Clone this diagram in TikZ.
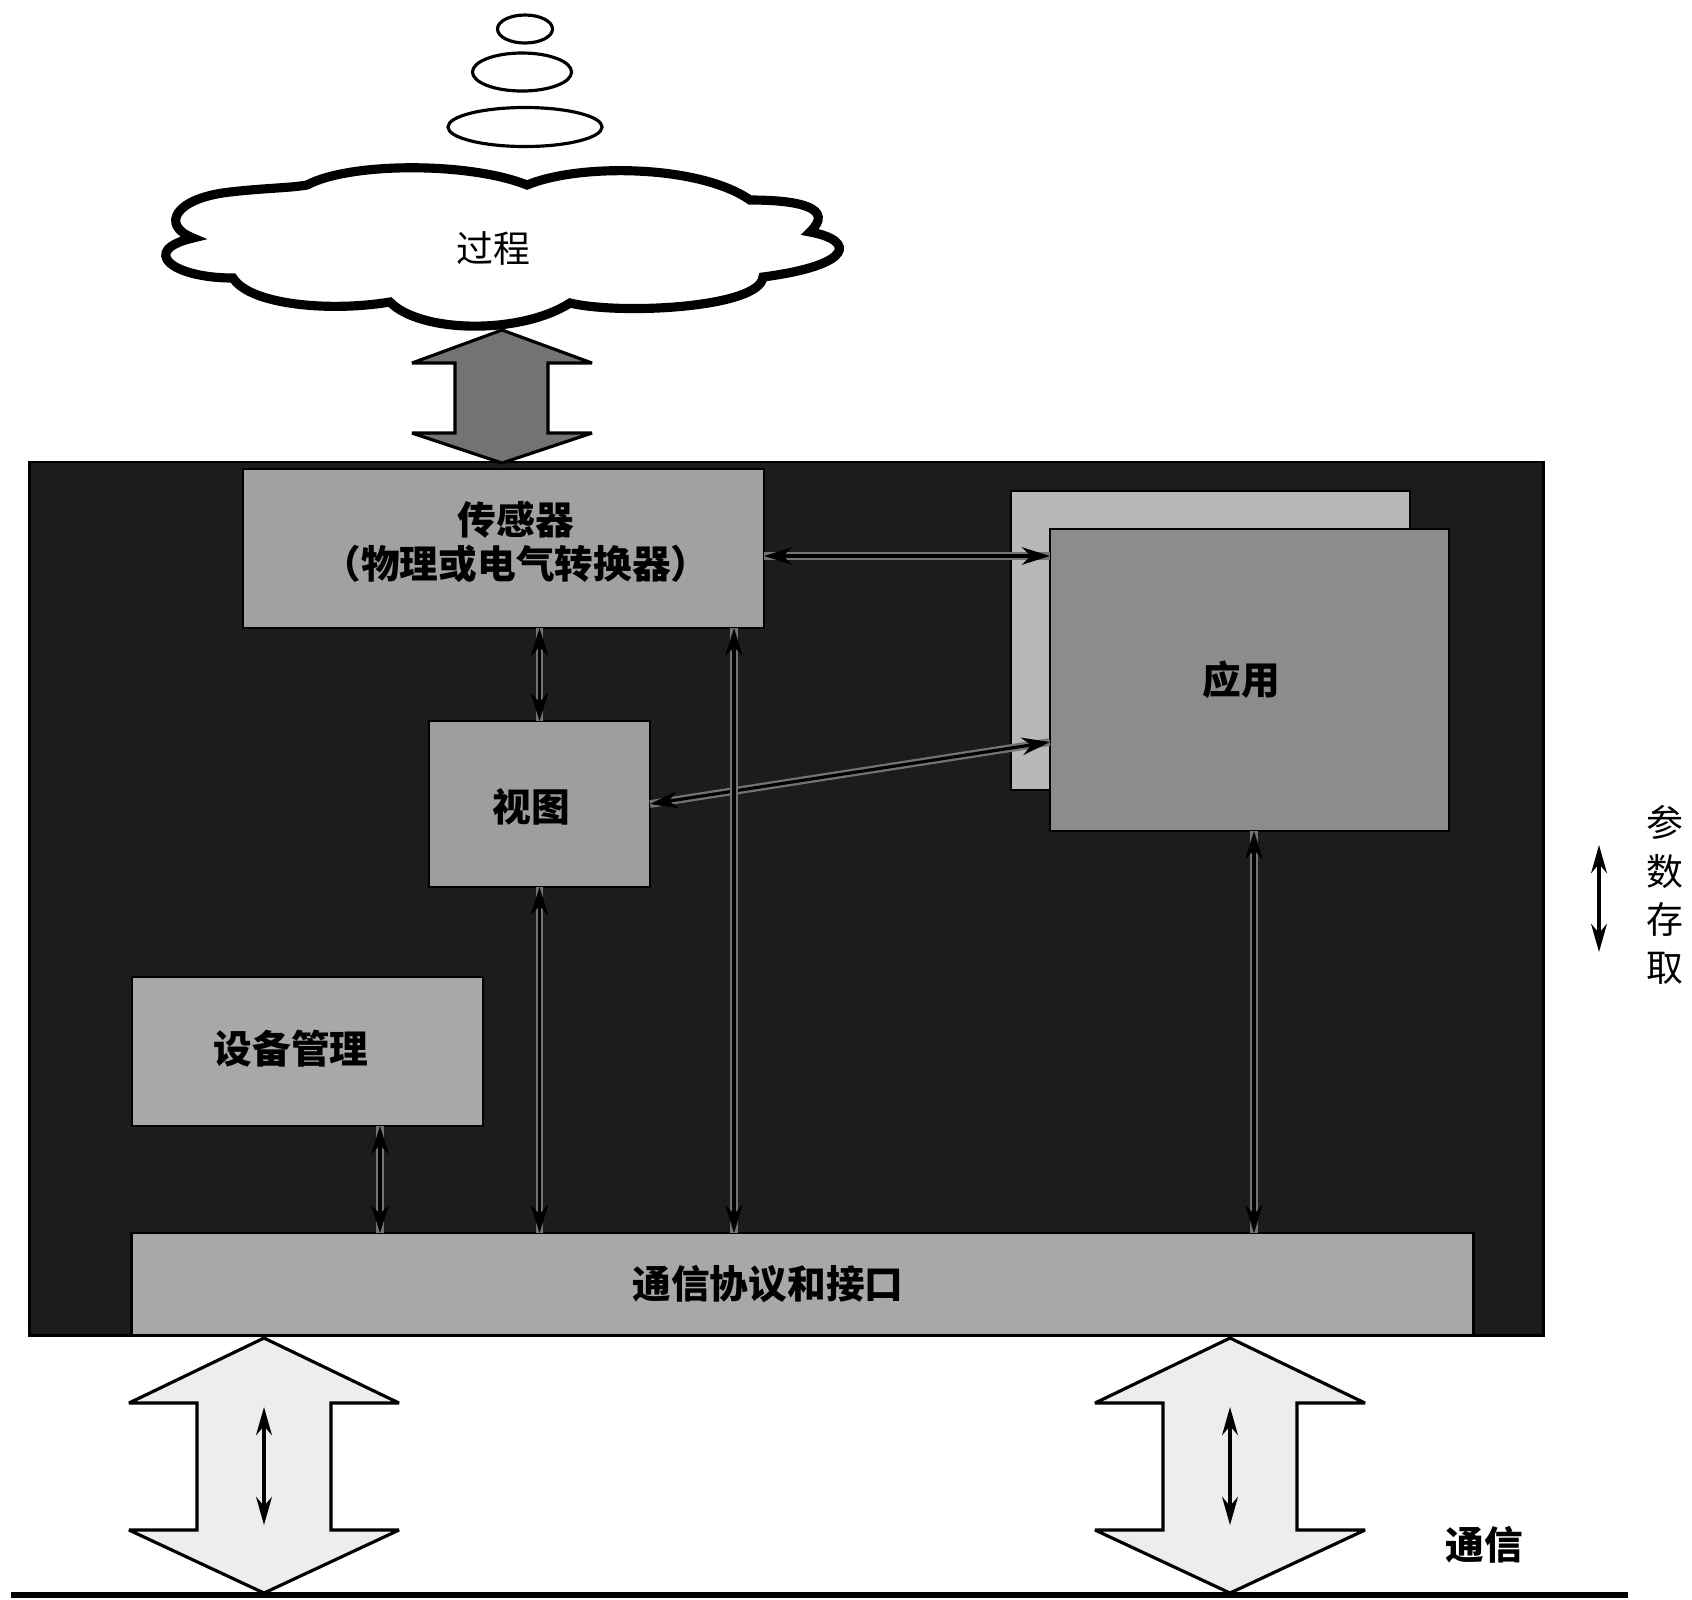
\documentclass[tikz,border=0pt]{standalone}
\usepackage{fontspec}
\newfontfamily\cjk{Noto Sans CJK SC}
\usetikzlibrary{arrows.meta}
\definecolor{darkbg}{gray}{0.11}
\definecolor{sensorc}{gray}{0.63}
\definecolor{appbackc}{gray}{0.72}
\definecolor{appfrontc}{gray}{0.55}
\definecolor{viewc}{gray}{0.62}
\definecolor{devc}{gray}{0.66}
\definecolor{commc}{gray}{0.66}
\definecolor{toparrowc}{gray}{0.45}
\definecolor{botarrowc}{gray}{0.93}
\begin{document}
\begin{tikzpicture}[x=0.01cm,y=-0.01cm,
  box/.style={draw=black, line width=0.7pt, inner sep=0pt, outer sep=0pt, rectangle},
  lbl/.style={font=\cjk\bfseries\fontsize{11pt}{12.5pt}\selectfont, inner sep=0pt, text=black, align=center},
  plain/.style={font=\cjk\fontsize{10.5pt}{13.7pt}\selectfont, inner sep=0pt, text=black, align=center},
  conn/.style={draw=black, line width=0.9pt, {Stealth[length=8pt,width=5pt]}-{Stealth[length=8pt,width=5pt]}, preaction={draw=black!55, line width=2.2pt, arrows=-}},
  thinarrow/.style={draw=black, line width=1pt, {Stealth[length=8pt,width=4.5pt]}-{Stealth[length=8pt,width=4.5pt]}},
  bigarrow/.style={draw=black, line width=0.9pt, line join=miter, miter limit=2},
  cloudline/.style={draw=black, line width=2.6pt, fill=white},
  ring/.style={draw=black, line width=0.9pt}
]
\useasboundingbox (0,0) rectangle (1692,1599);

% bubbles
\draw[ring] (525,29) ellipse [x radius=0.275cm, y radius=0.14cm];
\draw[ring] (522,72) ellipse [x radius=0.495cm, y radius=0.19cm];
\draw[ring] (525,127) ellipse [x radius=0.77cm, y radius=0.195cm];

% cloud
\draw[cloudline] (193,238) .. controls (160,225) and (175,198) .. (230,192)
  .. controls (265,188) and (290,188) .. (307,185)
  .. controls (350,162) and (470,162) .. (527,185)
  .. controls (580,163) and (700,165) .. (750,200)
  .. controls (800,200) and (835,208) .. (810,232)
  .. controls (855,240) and (855,265) .. (763,277)
  .. controls (760,308) and (620,315) .. (570,303)
  .. controls (520,335) and (420,333) .. (390,302)
  .. controls (330,312) and (250,305) .. (233,278)
  .. controls (170,278) and (140,250) .. (193,238) -- cycle;
\node[plain] (proc) at (493,248) {过程};

% main box and components
\node[box, fill=darkbg, minimum width=15.13cm, minimum height=8.73cm] (main) at (786.5,898.5) {};
\node[box, fill=sensorc, minimum width=5.21cm, minimum height=1.59cm] (sensor) at (503.5,548.5) {};
\node[box, fill=appbackc, minimum width=3.99cm, minimum height=2.99cm] (appback) at (1210.5,640.5) {};
\node[box, fill=appfrontc, minimum width=3.99cm, minimum height=3.02cm] (app) at (1249.5,680) {};
\node[box, fill=viewc, minimum width=2.21cm, minimum height=1.66cm] (view) at (539.5,804) {};
\node[box, fill=devc, minimum width=3.51cm, minimum height=1.49cm] (dev) at (307.5,1051.5) {};
\node[box, fill=commc, minimum width=13.41cm, minimum height=1.02cm] (comm) at (802.5,1284) {};

\node[lbl] (sensortxt) at (516,542) {传感器\\（物理或电气转换器）};
\node[lbl] (apptxt) at (1241,680) {应用};
\node[lbl] (viewtxt) at (531,807) {视图};
\node[lbl] (devtxt) at (291,1049) {设备管理};
\node[lbl] (commtxt) at (768,1284) {通信协议和接口};

% top big arrow
\draw[bigarrow, fill=toparrowc] (502,330) -- (592,363) -- (548,363) -- (548,433) -- (592,433) -- (502,463) -- (412,433) -- (455,433) -- (455,363) -- (412,363) -- cycle;

% inner connectors
\coordinate (ys) at (0,556);
\coordinate (ya) at (0,742);
\coordinate (xs) at (734,0);
\coordinate (xd) at (380,0);
\coordinate (xa) at (1254,0);
\draw[conn] (sensor.east |- ys) -- (app.west |- ys);
\draw[conn] (view.east) -- (app.west |- ya);
\draw[conn] (sensor.south -| view.north) -- (view.north);
\draw[conn] (view.south) -- (view.south |- comm.north);
\draw[conn] (sensor.south -| xs) -- (comm.north -| xs);
\draw[conn] (dev.south -| xd) -- (comm.north -| xd);
\draw[conn] (app.south -| xa) -- (comm.north -| xa);

% parameter access
\coordinate (pa1) at (1599,845);
\coordinate (pa2) at (1599,952);
\draw[thinarrow] (pa1) -- (pa2);
\node[plain] (param) at (1665,895) {参\\数\\存\\取};

% bottom big arrows
\draw[bigarrow, fill=botarrowc] (264,1338) -- (399,1403) -- (331,1403) -- (331,1530) -- (399,1530) -- (264,1593) -- (129,1530) -- (197,1530) -- (197,1403) -- (129,1403) -- cycle;
\draw[bigarrow, fill=botarrowc] (1230,1338) -- (1365,1403) -- (1297,1403) -- (1297,1530) -- (1365,1530) -- (1230,1593) -- (1095,1530) -- (1163,1530) -- (1163,1403) -- (1095,1403) -- cycle;
\coordinate (la1) at (264,1407);
\coordinate (la2) at (264,1525);
\coordinate (ra1) at (1230,1407);
\coordinate (ra2) at (1230,1525);
\draw[thinarrow] (la1) -- (la2);
\draw[thinarrow] (ra1) -- (ra2);

% bus line
\coordinate (bus1) at (11,1595);
\coordinate (bus2) at (1628,1595);
\draw[line width=1.7pt] (bus1) -- (bus2);
\node[lbl] (commlbl) at (1484,1545) {通信};
\end{tikzpicture}
\end{document}
